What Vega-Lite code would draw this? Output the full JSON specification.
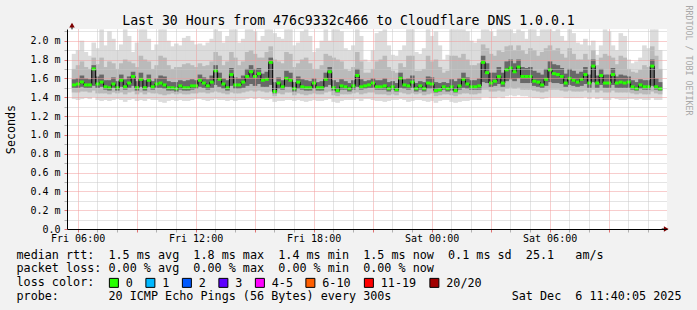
{
"$schema":"https://vega.github.io/schema/vega-lite/v6.json",
"width":600,"height":200,
"autosize":{"type":"none"},
"padding":{"left":67,"top":29,"right":30,"bottom":81},
"background":"#f2f2f2",
"view":{"fill":"#ffffff","stroke":null},
"config":{
 "font":"DejaVu Sans Mono",
 "axis":{"labelFont":"DejaVu Sans Mono","titleFont":"DejaVu Sans Mono","titleFontWeight":"normal","labelColor":"#000000","titleColor":"#000000"},
 "legend":{"labelFont":"DejaVu Sans Mono","titleFont":"DejaVu Sans Mono"}
},
"data":{"values":[
{"t":5.82,"med":1.53,"min":1.38,"p10":1.45,"p25":1.50,"p75":1.59,"p90":1.70,"max":1.86},
{"t":6.02,"med":1.54,"min":1.37,"p10":1.45,"p25":1.50,"p75":1.60,"p90":1.74,"max":1.90},
{"t":6.22,"med":1.56,"min":1.38,"p10":1.46,"p25":1.51,"p75":1.63,"p90":1.78,"max":2.00},
{"t":6.42,"med":1.53,"min":1.39,"p10":1.46,"p25":1.50,"p75":1.60,"p90":1.72,"max":1.88},
{"t":6.62,"med":1.53,"min":1.38,"p10":1.45,"p25":1.50,"p75":1.59,"p90":1.70,"max":1.84},
{"t":6.82,"med":1.70,"min":1.40,"p10":1.47,"p25":1.52,"p75":1.74,"p90":1.82,"max":1.98},
{"t":7.02,"med":1.54,"min":1.37,"p10":1.44,"p25":1.50,"p75":1.62,"p90":1.75,"max":1.92},
{"t":7.22,"med":1.56,"min":1.36,"p10":1.44,"p25":1.51,"p75":1.64,"p90":1.82,"max":2.12},
{"t":7.42,"med":1.51,"min":1.37,"p10":1.44,"p25":1.48,"p75":1.58,"p90":1.72,"max":1.95},
{"t":7.62,"med":1.50,"min":1.36,"p10":1.43,"p25":1.47,"p75":1.58,"p90":1.78,"max":2.10},
{"t":7.82,"med":1.54,"min":1.37,"p10":1.45,"p25":1.50,"p75":1.61,"p90":1.76,"max":2.02},
{"t":8.02,"med":1.50,"min":1.38,"p10":1.44,"p25":1.47,"p75":1.57,"p90":1.70,"max":1.90},
{"t":8.22,"med":1.58,"min":1.37,"p10":1.45,"p25":1.51,"p75":1.64,"p90":1.76,"max":1.96},
{"t":8.42,"med":1.51,"min":1.35,"p10":1.43,"p25":1.48,"p75":1.59,"p90":1.80,"max":2.12},
{"t":8.62,"med":1.55,"min":1.37,"p10":1.45,"p25":1.50,"p75":1.62,"p90":1.78,"max":2.05},
{"t":8.82,"med":1.62,"min":1.38,"p10":1.46,"p25":1.52,"p75":1.67,"p90":1.76,"max":1.88},
{"t":9.02,"med":1.50,"min":1.36,"p10":1.43,"p25":1.47,"p75":1.57,"p90":1.72,"max":1.98},
{"t":9.22,"med":1.59,"min":1.37,"p10":1.45,"p25":1.51,"p75":1.66,"p90":1.84,"max":2.12},
{"t":9.42,"med":1.50,"min":1.36,"p10":1.43,"p25":1.47,"p75":1.58,"p90":1.80,"max":2.12},
{"t":9.62,"med":1.58,"min":1.38,"p10":1.45,"p25":1.51,"p75":1.64,"p90":1.78,"max":2.02},
{"t":9.82,"med":1.51,"min":1.37,"p10":1.44,"p25":1.48,"p75":1.57,"p90":1.70,"max":1.90},
{"t":10.02,"med":1.54,"min":1.37,"p10":1.44,"p25":1.50,"p75":1.60,"p90":1.74,"max":1.96},
{"t":10.22,"med":1.55,"min":1.35,"p10":1.43,"p25":1.50,"p75":1.63,"p90":1.84,"max":2.12},
{"t":10.42,"med":1.53,"min":1.34,"p10":1.42,"p25":1.49,"p75":1.62,"p90":1.82,"max":2.12},
{"t":10.62,"med":1.50,"min":1.36,"p10":1.43,"p25":1.47,"p75":1.57,"p90":1.74,"max":2.00},
{"t":10.82,"med":1.50,"min":1.37,"p10":1.44,"p25":1.47,"p75":1.56,"p90":1.70,"max":1.94},
{"t":11.02,"med":1.49,"min":1.36,"p10":1.43,"p25":1.46,"p75":1.56,"p90":1.72,"max":1.97},
{"t":11.22,"med":1.52,"min":1.37,"p10":1.44,"p25":1.48,"p75":1.58,"p90":1.72,"max":1.95},
{"t":11.42,"med":1.50,"min":1.36,"p10":1.43,"p25":1.47,"p75":1.57,"p90":1.75,"max":2.03},
{"t":11.62,"med":1.50,"min":1.36,"p10":1.43,"p25":1.47,"p75":1.58,"p90":1.76,"max":2.05},
{"t":11.82,"med":1.52,"min":1.37,"p10":1.44,"p25":1.48,"p75":1.59,"p90":1.74,"max":2.00},
{"t":12.02,"med":1.52,"min":1.38,"p10":1.44,"p25":1.49,"p75":1.58,"p90":1.72,"max":1.96},
{"t":12.22,"med":1.58,"min":1.38,"p10":1.45,"p25":1.51,"p75":1.64,"p90":1.76,"max":1.97},
{"t":12.42,"med":1.55,"min":1.37,"p10":1.45,"p25":1.50,"p75":1.61,"p90":1.73,"max":1.95},
{"t":12.62,"med":1.52,"min":1.36,"p10":1.44,"p25":1.48,"p75":1.59,"p90":1.74,"max":1.98},
{"t":12.82,"med":1.56,"min":1.37,"p10":1.45,"p25":1.50,"p75":1.63,"p90":1.78,"max":2.02},
{"t":13.02,"med":1.68,"min":1.38,"p10":1.46,"p25":1.53,"p75":1.74,"p90":1.88,"max":2.12},
{"t":13.22,"med":1.59,"min":1.37,"p10":1.45,"p25":1.51,"p75":1.66,"p90":1.84,"max":2.10},
{"t":13.42,"med":1.54,"min":1.37,"p10":1.44,"p25":1.49,"p75":1.60,"p90":1.74,"max":1.98},
{"t":13.62,"med":1.50,"min":1.36,"p10":1.43,"p25":1.47,"p75":1.58,"p90":1.78,"max":2.05},
{"t":13.82,"med":1.64,"min":1.37,"p10":1.45,"p25":1.52,"p75":1.71,"p90":1.88,"max":2.12},
{"t":14.02,"med":1.53,"min":1.36,"p10":1.44,"p25":1.49,"p75":1.61,"p90":1.82,"max":2.12},
{"t":14.22,"med":1.53,"min":1.37,"p10":1.44,"p25":1.49,"p75":1.60,"p90":1.74,"max":1.98},
{"t":14.42,"med":1.56,"min":1.37,"p10":1.45,"p25":1.50,"p75":1.63,"p90":1.78,"max":2.02},
{"t":14.62,"med":1.62,"min":1.38,"p10":1.46,"p25":1.52,"p75":1.70,"p90":1.88,"max":2.12},
{"t":14.82,"med":1.67,"min":1.39,"p10":1.47,"p25":1.54,"p75":1.74,"p90":1.90,"max":2.12},
{"t":15.02,"med":1.62,"min":1.38,"p10":1.46,"p25":1.52,"p75":1.70,"p90":1.86,"max":2.10},
{"t":15.22,"med":1.65,"min":1.39,"p10":1.47,"p25":1.54,"p75":1.71,"p90":1.82,"max":2.00},
{"t":15.42,"med":1.58,"min":1.38,"p10":1.46,"p25":1.51,"p75":1.65,"p90":1.82,"max":2.05},
{"t":15.62,"med":1.59,"min":1.37,"p10":1.45,"p25":1.51,"p75":1.67,"p90":1.88,"max":2.12},
{"t":15.82,"med":1.77,"min":1.38,"p10":1.46,"p25":1.53,"p75":1.82,"p90":1.94,"max":2.12},
{"t":16.02,"med":1.46,"min":1.35,"p10":1.41,"p25":1.44,"p75":1.56,"p90":1.80,"max":2.08},
{"t":16.22,"med":1.55,"min":1.36,"p10":1.44,"p25":1.49,"p75":1.61,"p90":1.78,"max":2.04},
{"t":16.42,"med":1.51,"min":1.36,"p10":1.43,"p25":1.48,"p75":1.58,"p90":1.76,"max":2.02},
{"t":16.62,"med":1.60,"min":1.37,"p10":1.45,"p25":1.51,"p75":1.68,"p90":1.88,"max":2.12},
{"t":16.82,"med":1.58,"min":1.37,"p10":1.45,"p25":1.51,"p75":1.66,"p90":1.86,"max":2.12},
{"t":17.02,"med":1.49,"min":1.36,"p10":1.42,"p25":1.46,"p75":1.56,"p90":1.72,"max":1.95},
{"t":17.22,"med":1.56,"min":1.37,"p10":1.44,"p25":1.49,"p75":1.62,"p90":1.76,"max":1.98},
{"t":17.42,"med":1.51,"min":1.36,"p10":1.43,"p25":1.48,"p75":1.59,"p90":1.80,"max":2.10},
{"t":17.62,"med":1.50,"min":1.35,"p10":1.42,"p25":1.47,"p75":1.58,"p90":1.82,"max":2.12},
{"t":17.82,"med":1.50,"min":1.36,"p10":1.43,"p25":1.47,"p75":1.57,"p90":1.76,"max":2.05},
{"t":18.02,"med":1.55,"min":1.37,"p10":1.44,"p25":1.49,"p75":1.60,"p90":1.70,"max":1.88},
{"t":18.22,"med":1.50,"min":1.36,"p10":1.43,"p25":1.47,"p75":1.56,"p90":1.70,"max":1.92},
{"t":18.42,"med":1.50,"min":1.36,"p10":1.43,"p25":1.47,"p75":1.57,"p90":1.74,"max":2.00},
{"t":18.62,"med":1.59,"min":1.37,"p10":1.45,"p25":1.51,"p75":1.66,"p90":1.86,"max":2.12},
{"t":18.82,"med":1.67,"min":1.38,"p10":1.46,"p25":1.53,"p75":1.72,"p90":1.84,"max":2.00},
{"t":19.02,"med":1.50,"min":1.35,"p10":1.42,"p25":1.47,"p75":1.58,"p90":1.82,"max":2.12},
{"t":19.22,"med":1.47,"min":1.34,"p10":1.41,"p25":1.45,"p75":1.56,"p90":1.80,"max":2.12},
{"t":19.42,"med":1.52,"min":1.36,"p10":1.43,"p25":1.48,"p75":1.59,"p90":1.78,"max":2.10},
{"t":19.62,"med":1.51,"min":1.37,"p10":1.43,"p25":1.48,"p75":1.57,"p90":1.70,"max":1.92},
{"t":19.82,"med":1.49,"min":1.37,"p10":1.43,"p25":1.46,"p75":1.55,"p90":1.68,"max":1.90},
{"t":20.02,"med":1.52,"min":1.37,"p10":1.44,"p25":1.48,"p75":1.58,"p90":1.72,"max":1.95},
{"t":20.22,"med":1.63,"min":1.38,"p10":1.45,"p25":1.51,"p75":1.70,"p90":1.88,"max":2.12},
{"t":20.42,"med":1.51,"min":1.36,"p10":1.43,"p25":1.48,"p75":1.59,"p90":1.78,"max":2.05},
{"t":20.62,"med":1.52,"min":1.38,"p10":1.44,"p25":1.49,"p75":1.57,"p90":1.66,"max":1.80},
{"t":20.82,"med":1.53,"min":1.38,"p10":1.45,"p25":1.50,"p75":1.58,"p90":1.66,"max":1.78},
{"t":21.02,"med":1.55,"min":1.37,"p10":1.45,"p25":1.50,"p75":1.60,"p90":1.70,"max":1.90},
{"t":21.22,"med":1.51,"min":1.36,"p10":1.43,"p25":1.48,"p75":1.58,"p90":1.78,"max":2.08},
{"t":21.42,"med":1.51,"min":1.36,"p10":1.43,"p25":1.48,"p75":1.58,"p90":1.80,"max":2.10},
{"t":21.62,"med":1.52,"min":1.35,"p10":1.43,"p25":1.48,"p75":1.60,"p90":1.84,"max":2.12},
{"t":21.82,"med":1.49,"min":1.36,"p10":1.42,"p25":1.46,"p75":1.56,"p90":1.72,"max":1.95},
{"t":22.02,"med":1.51,"min":1.37,"p10":1.43,"p25":1.48,"p75":1.57,"p90":1.68,"max":1.85},
{"t":22.22,"med":1.48,"min":1.37,"p10":1.42,"p25":1.46,"p75":1.55,"p90":1.66,"max":1.84},
{"t":22.42,"med":1.60,"min":1.38,"p10":1.45,"p25":1.50,"p75":1.66,"p90":1.76,"max":1.90},
{"t":22.62,"med":1.53,"min":1.37,"p10":1.44,"p25":1.49,"p75":1.59,"p90":1.72,"max":1.95},
{"t":22.82,"med":1.52,"min":1.35,"p10":1.43,"p25":1.48,"p75":1.60,"p90":1.84,"max":2.12},
{"t":23.02,"med":1.56,"min":1.36,"p10":1.44,"p25":1.50,"p75":1.63,"p90":1.84,"max":2.12},
{"t":23.22,"med":1.49,"min":1.37,"p10":1.43,"p25":1.46,"p75":1.55,"p90":1.68,"max":1.88},
{"t":23.42,"med":1.52,"min":1.37,"p10":1.44,"p25":1.48,"p75":1.57,"p90":1.68,"max":1.86},
{"t":23.62,"med":1.49,"min":1.36,"p10":1.42,"p25":1.46,"p75":1.56,"p90":1.70,"max":1.92},
{"t":23.82,"med":1.55,"min":1.35,"p10":1.43,"p25":1.49,"p75":1.62,"p90":1.84,"max":2.12},
{"t":24.02,"med":1.54,"min":1.36,"p10":1.44,"p25":1.49,"p75":1.61,"p90":1.78,"max":2.05},
{"t":24.22,"med":1.47,"min":1.34,"p10":1.41,"p25":1.45,"p75":1.56,"p90":1.80,"max":2.10},
{"t":24.42,"med":1.48,"min":1.36,"p10":1.42,"p25":1.46,"p75":1.55,"p90":1.72,"max":1.95},
{"t":24.62,"med":1.51,"min":1.37,"p10":1.43,"p25":1.48,"p75":1.56,"p90":1.66,"max":1.80},
{"t":24.82,"med":1.49,"min":1.37,"p10":1.43,"p25":1.46,"p75":1.55,"p90":1.68,"max":1.85},
{"t":25.02,"med":1.51,"min":1.35,"p10":1.42,"p25":1.47,"p75":1.59,"p90":1.84,"max":2.12},
{"t":25.22,"med":1.47,"min":1.34,"p10":1.41,"p25":1.45,"p75":1.57,"p90":1.84,"max":2.12},
{"t":25.42,"med":1.52,"min":1.35,"p10":1.43,"p25":1.48,"p75":1.60,"p90":1.82,"max":2.12},
{"t":25.62,"med":1.59,"min":1.36,"p10":1.44,"p25":1.50,"p75":1.66,"p90":1.86,"max":2.12},
{"t":25.82,"med":1.54,"min":1.36,"p10":1.44,"p25":1.49,"p75":1.61,"p90":1.80,"max":2.10},
{"t":26.02,"med":1.51,"min":1.37,"p10":1.43,"p25":1.48,"p75":1.58,"p90":1.74,"max":2.00},
{"t":26.22,"med":1.51,"min":1.37,"p10":1.43,"p25":1.48,"p75":1.58,"p90":1.74,"max":1.98},
{"t":26.42,"med":1.52,"min":1.37,"p10":1.44,"p25":1.48,"p75":1.60,"p90":1.76,"max":2.02},
{"t":26.62,"med":1.77,"min":1.40,"p10":1.48,"p25":1.56,"p75":1.84,"p90":1.96,"max":2.12},
{"t":26.82,"med":1.66,"min":1.40,"p10":1.48,"p25":1.55,"p75":1.76,"p90":1.92,"max":2.12},
{"t":27.02,"med":1.55,"min":1.39,"p10":1.46,"p25":1.51,"p75":1.66,"p90":1.86,"max":2.10},
{"t":27.22,"med":1.57,"min":1.39,"p10":1.46,"p25":1.52,"p75":1.66,"p90":1.84,"max":2.05},
{"t":27.42,"med":1.62,"min":1.40,"p10":1.47,"p25":1.54,"p75":1.72,"p90":1.90,"max":2.12},
{"t":27.62,"med":1.55,"min":1.39,"p10":1.46,"p25":1.51,"p75":1.66,"p90":1.88,"max":2.12},
{"t":27.82,"med":1.69,"min":1.41,"p10":1.49,"p25":1.57,"p75":1.78,"p90":1.94,"max":2.12},
{"t":28.02,"med":1.71,"min":1.42,"p10":1.50,"p25":1.59,"p75":1.80,"p90":1.95,"max":2.12},
{"t":28.22,"med":1.67,"min":1.41,"p10":1.49,"p25":1.57,"p75":1.76,"p90":1.90,"max":2.08},
{"t":28.42,"med":1.72,"min":1.42,"p10":1.50,"p25":1.60,"p75":1.80,"p90":1.95,"max":2.12},
{"t":28.62,"med":1.62,"min":1.41,"p10":1.48,"p25":1.55,"p75":1.72,"p90":1.90,"max":2.10},
{"t":28.82,"med":1.62,"min":1.41,"p10":1.48,"p25":1.55,"p75":1.71,"p90":1.86,"max":2.02},
{"t":29.02,"med":1.62,"min":1.40,"p10":1.48,"p25":1.55,"p75":1.72,"p90":1.92,"max":2.12},
{"t":29.22,"med":1.57,"min":1.39,"p10":1.47,"p25":1.52,"p75":1.68,"p90":1.90,"max":2.12},
{"t":29.42,"med":1.56,"min":1.39,"p10":1.46,"p25":1.51,"p75":1.66,"p90":1.84,"max":2.05},
{"t":29.62,"med":1.53,"min":1.38,"p10":1.45,"p25":1.50,"p75":1.64,"p90":1.88,"max":2.12},
{"t":29.82,"med":1.59,"min":1.39,"p10":1.46,"p25":1.52,"p75":1.70,"p90":1.92,"max":2.12},
{"t":30.02,"med":1.69,"min":1.40,"p10":1.48,"p25":1.56,"p75":1.78,"p90":1.95,"max":2.12},
{"t":30.22,"med":1.65,"min":1.40,"p10":1.48,"p25":1.55,"p75":1.75,"p90":1.90,"max":2.10},
{"t":30.42,"med":1.64,"min":1.40,"p10":1.48,"p25":1.55,"p75":1.74,"p90":1.92,"max":2.12},
{"t":30.62,"med":1.62,"min":1.40,"p10":1.47,"p25":1.54,"p75":1.71,"p90":1.86,"max":2.05},
{"t":30.82,"med":1.55,"min":1.39,"p10":1.46,"p25":1.51,"p75":1.65,"p90":1.82,"max":2.00},
{"t":31.02,"med":1.60,"min":1.39,"p10":1.47,"p25":1.53,"p75":1.70,"p90":1.92,"max":2.12},
{"t":31.22,"med":1.58,"min":1.39,"p10":1.46,"p25":1.52,"p75":1.68,"p90":1.86,"max":2.08},
{"t":31.42,"med":1.56,"min":1.39,"p10":1.46,"p25":1.51,"p75":1.65,"p90":1.80,"max":1.98},
{"t":31.62,"med":1.59,"min":1.39,"p10":1.46,"p25":1.52,"p75":1.67,"p90":1.80,"max":1.96},
{"t":31.82,"med":1.64,"min":1.40,"p10":1.47,"p25":1.54,"p75":1.72,"p90":1.86,"max":2.02},
{"t":32.02,"med":1.55,"min":1.38,"p10":1.45,"p25":1.50,"p75":1.64,"p90":1.80,"max":1.95},
{"t":32.22,"med":1.73,"min":1.40,"p10":1.48,"p25":1.56,"p75":1.80,"p90":1.90,"max":2.00},
{"t":32.42,"med":1.55,"min":1.38,"p10":1.45,"p25":1.50,"p75":1.63,"p90":1.74,"max":1.85},
{"t":32.62,"med":1.63,"min":1.39,"p10":1.47,"p25":1.53,"p75":1.70,"p90":1.82,"max":1.95},
{"t":32.82,"med":1.55,"min":1.37,"p10":1.45,"p25":1.50,"p75":1.64,"p90":1.86,"max":2.12},
{"t":33.02,"med":1.55,"min":1.37,"p10":1.45,"p25":1.50,"p75":1.64,"p90":1.84,"max":2.10},
{"t":33.22,"med":1.64,"min":1.39,"p10":1.47,"p25":1.53,"p75":1.71,"p90":1.82,"max":1.95},
{"t":33.42,"med":1.55,"min":1.38,"p10":1.45,"p25":1.50,"p75":1.62,"p90":1.75,"max":1.90},
{"t":33.62,"med":1.56,"min":1.37,"p10":1.45,"p25":1.50,"p75":1.64,"p90":1.84,"max":2.08},
{"t":33.82,"med":1.55,"min":1.37,"p10":1.45,"p25":1.50,"p75":1.63,"p90":1.82,"max":2.05},
{"t":34.02,"med":1.56,"min":1.38,"p10":1.45,"p25":1.50,"p75":1.62,"p90":1.70,"max":1.80},
{"t":34.22,"med":1.51,"min":1.38,"p10":1.44,"p25":1.48,"p75":1.58,"p90":1.67,"max":1.76},
{"t":34.42,"med":1.49,"min":1.37,"p10":1.43,"p25":1.47,"p75":1.56,"p90":1.66,"max":1.78},
{"t":34.62,"med":1.53,"min":1.38,"p10":1.44,"p25":1.49,"p75":1.59,"p90":1.69,"max":1.82},
{"t":34.82,"med":1.51,"min":1.37,"p10":1.43,"p25":1.48,"p75":1.58,"p90":1.74,"max":1.95},
{"t":35.02,"med":1.51,"min":1.37,"p10":1.43,"p25":1.48,"p75":1.58,"p90":1.72,"max":1.92},
{"t":35.22,"med":1.73,"min":1.39,"p10":1.46,"p25":1.52,"p75":1.80,"p90":1.94,"max":2.12},
{"t":35.42,"med":1.51,"min":1.37,"p10":1.44,"p25":1.48,"p75":1.60,"p90":1.84,"max":2.12},
{"t":35.62,"med":1.49,"min":1.37,"p10":1.43,"p25":1.47,"p75":1.56,"p90":1.70,"max":1.90}
]},
"layer":[
 {"mark":{"type":"bar","width":4.6,"color":"#dcdcdc"},
  "encoding":{
   "x":{"field":"t","type":"quantitative","scale":{"domain":[5.715,35.715],"nice":false,"zero":false},
    "axis":{"values":[6,7,8,9,10,11,12,13,14,15,16,17,18,19,20,21,22,23,24,25,26,27,28,29,30,31,32,33,34,35],
     "labelExpr":"datum.value % 6 === 0 ? ['Fri 06:00','Fri 12:00','Fri 18:00','Sat 00:00','Sat 06:00'][datum.value/6-1] : ''",
     "labelFontSize":10,"labelBaseline":"alphabetic","labelPadding":9,"labelOverlap":false,"labelFlush":false,"labelBound":false,
     "tickSize":3,"tickColor":{"condition":{"test":"datum.value % 3 === 0","value":"#e07070"},"value":"#b0b0b0"},
     "grid":true,"gridColor":{"condition":{"test":"datum.value % 3 === 0","value":"#f09a9a"},"value":"#c8c8c8"},"gridDash":[1,1],
     "domainColor":"#000000","domainWidth":1,"zindex":1,
     "title":["median rtt:\u00a0\u00a01.5 ms avg\u00a0\u00a01.8 ms max\u00a0\u00a01.4 ms min\u00a0\u00a01.5 ms now\u00a0\u00a00.1 ms sd\u00a0\u00a025.1\u00a0\u00a0\u00a0am/s",
      "packet loss: 0.00 % avg\u00a0\u00a00.00 % max\u00a0\u00a00.00 % min\u00a0\u00a00.00 % now",
      "loss color:",
      "probe:\u00a0\u00a0\u00a0\u00a0\u00a0\u00a0\u00a020 ICMP Echo Pings (56 Bytes) every 300s\u00a0\u00a0\u00a0\u00a0\u00a0\u00a0\u00a0\u00a0\u00a0\u00a0\u00a0\u00a0\u00a0\u00a0\u00a0\u00a0\u00a0Sat Dec\u00a0\u00a06 11:40:05 2025"],
     "titleX":-51,"titleY":29.3,"titleAlign":"left","titleBaseline":"alphabetic","titleFontSize":11.75,"titleLineHeight":13.7}},
   "y":{"field":"min","type":"quantitative","scale":{"domain":[0,2.124],"nice":false,"zero":true},
    "axis":{"values":[0,0.1,0.2,0.3,0.4,0.5,0.6,0.7,0.8,0.9,1,1.1,1.2,1.3,1.4,1.5,1.6,1.7,1.8,1.9,2,2.1],
     "labelExpr":"datum.value === 0 ? '0.0' : (round(datum.value*10) % 2 === 0 ? format(datum.value, '.1f') + ' m' : '')",
     "labelFontSize":10,"labelPadding":4,"labelOverlap":false,"labelBound":false,"labelFlush":false,
     "tickSize":3,"tickColor":{"condition":{"test":"round(datum.value*10) % 2 === 0","value":"#e07070"},"value":"#b0b0b0"},
     "grid":true,"gridColor":{"condition":{"test":"round(datum.value*10) % 2 === 0","value":"#f09a9a"},"value":"#c8c8c8"},"gridDash":[1,1],
     "domainColor":"#000000","domainWidth":1,"zindex":1,
     "title":"Seconds","titleX":-56.7,"titleY":100,"titleAngle":-90,"titleAlign":"center","titleBaseline":"middle","titleFontSize":11.7}},
   "y2":{"field":"max"}
  }},
 {"mark":{"type":"bar","width":4.6,"color":"#bababa"},
  "encoding":{
   "x":{"field":"t","type":"quantitative",
    "axis":{"orient":"top","labels":false,"ticks":false,"domain":false,"grid":false,
     "title":"Last 30 Hours from 476c9332c466 to Cloudflare DNS 1.0.0.1","titleX":281,"titleY":-5,"titleAlign":"center","titleBaseline":"alphabetic","titleFontSize":13.2}},
   "y":{"field":"p10","type":"quantitative",
    "axis":{"orient":"right","labels":false,"ticks":false,"domain":false,"grid":false,
     "title":"RRDTOOL / TOBI OETIKER","titleAngle":90,"titleX":20.5,"titleY":-24,"titleAlign":"left","titleBaseline":"middle","titleFontSize":8.3,"titleColor":"#a8a8a8"}},
   "y2":{"field":"p90"}
  }},
 {"mark":{"type":"bar","width":4.6,"color":"#686868"},
  "encoding":{
   "x":{"field":"t","type":"quantitative","axis":null},
   "y":{"field":"p25","type":"quantitative","axis":null},
   "y2":{"field":"p75"}
  }},
 {"mark":{"type":"line","interpolate":"step","color":"#000000","strokeWidth":1},
  "encoding":{
   "x":{"field":"t","type":"quantitative","axis":null},
   "y":{"field":"med","type":"quantitative","axis":null}
  }},
 {"mark":{"type":"tick","orient":"horizontal","size":4,"thickness":3,"opacity":1},
  "encoding":{
   "x":{"field":"t","type":"quantitative","axis":null},
   "y":{"field":"med","type":"quantitative","axis":null},
   "color":{"datum":"0","type":"nominal",
    "scale":{"domain":["0","1","2","3","4-5","6-10","11-19","20/20"],"range":["#26ff00","#00b8ff","#0059ff","#5e00ff","#ff00ff","#ff5e00","#ff0000","#a10000"]},
    "legend":{"orient":"none","legendX":41,"legendY":248,"direction":"horizontal","columns":8,"gridAlign":"none","title":null,
     "symbolType":"square","symbolSize":81,"symbolStrokeColor":"#000000","symbolStrokeWidth":1,"symbolOpacity":1,
     "labelFontSize":11.75,"labelColor":"#000000","labelOffset":6,"columnPadding":10.5,"padding":0,"labelLimit":0}}
  }},
 {"data":{"values":[{}]},"mark":{"type":"rule","color":"#000000","strokeWidth":1},
  "encoding":{"x":{"datum":5.715,"type":"quantitative","axis":null},"y":{"datum":2.12,"type":"quantitative","axis":null},"y2":{"datum":2.17}}},
 {"data":{"values":[{}]},"mark":{"type":"rule","color":"#000000","strokeWidth":1},
  "encoding":{"y":{"datum":0,"type":"quantitative","axis":null},"x":{"datum":35.7,"type":"quantitative","axis":null},"x2":{"datum":35.92}}},
 {"data":{"values":[{}]},"mark":{"type":"point","shape":"triangle-up","filled":true,"color":"#7f0000","size":30,"opacity":1},
  "encoding":{"x":{"datum":5.715,"type":"quantitative","axis":null},"y":{"datum":2.165,"type":"quantitative","axis":null}}},
 {"data":{"values":[{}]},"mark":{"type":"point","shape":"triangle-right","filled":true,"color":"#7f0000","size":30,"opacity":1},
  "encoding":{"x":{"datum":35.93,"type":"quantitative","axis":null},"y":{"datum":0,"type":"quantitative","axis":null}}}
],
"resolve":{"axis":{"x":"independent","y":"independent"}}
}
